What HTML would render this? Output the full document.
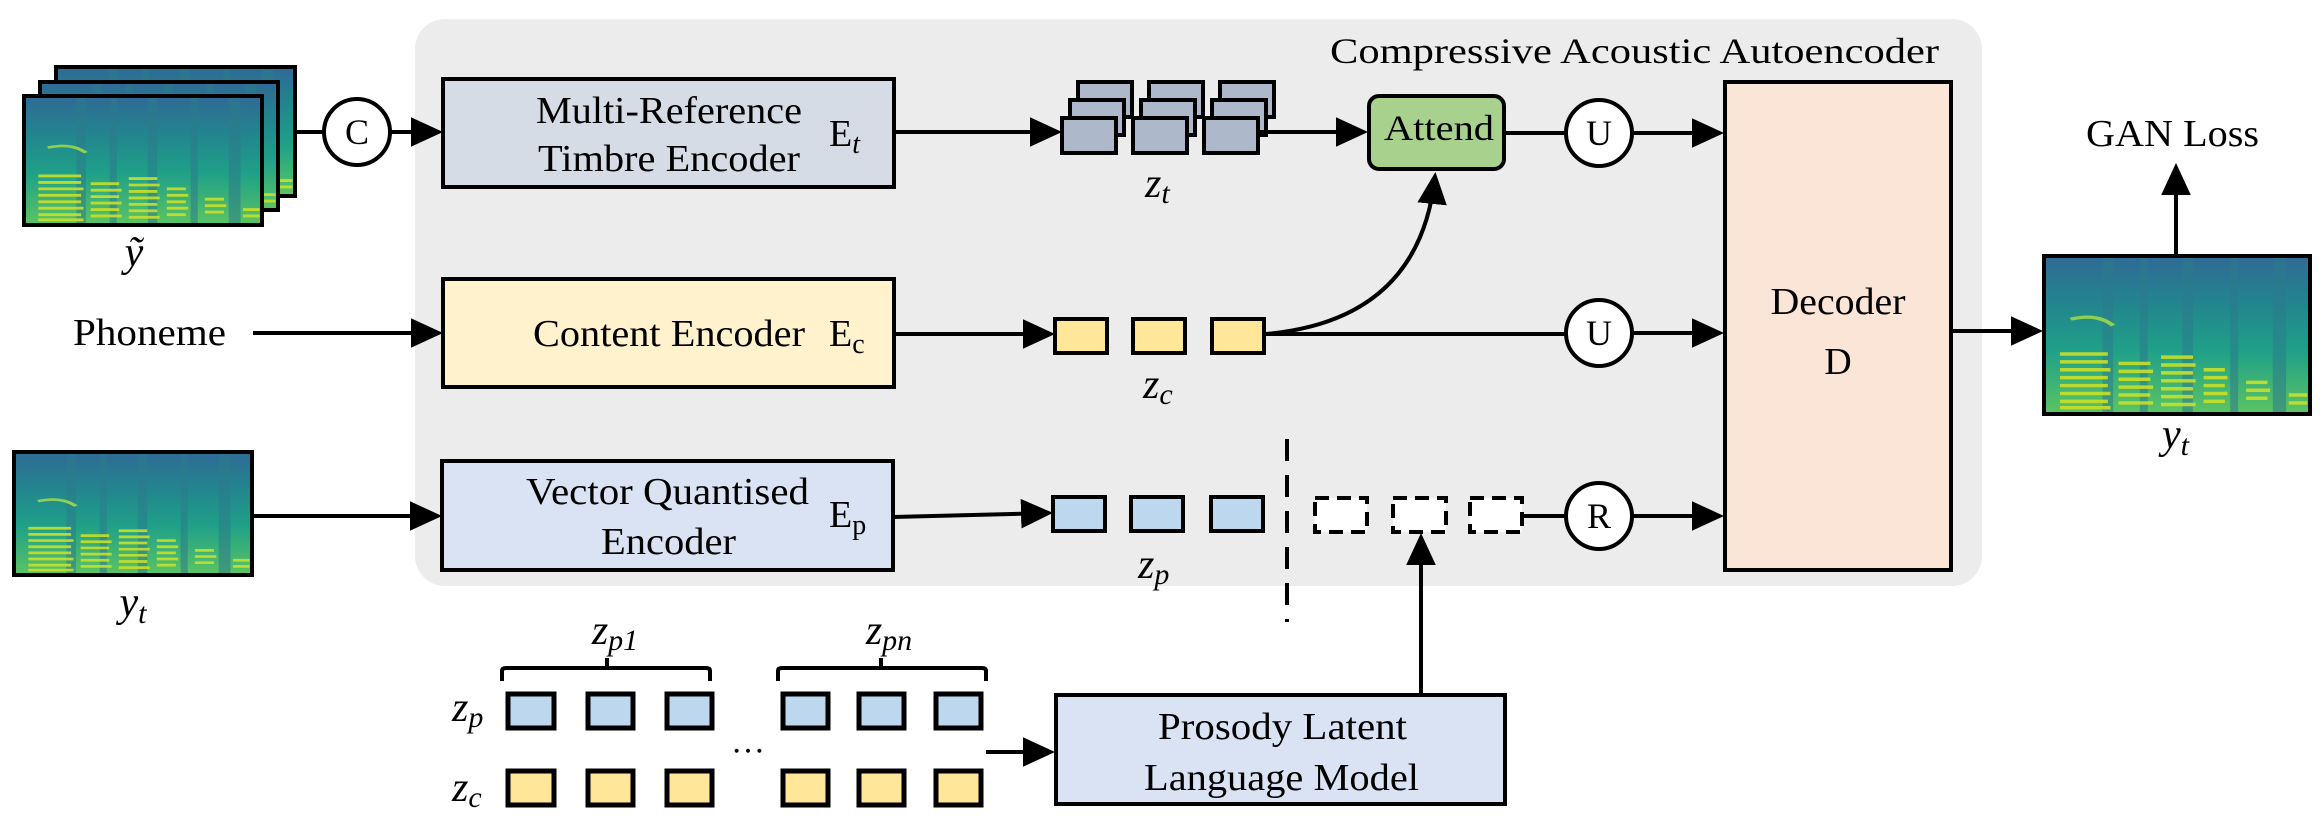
<!DOCTYPE html>
<html><head><meta charset="utf-8"><style>
html,body{margin:0;padding:0;background:#fff;}
svg{display:block;}
text{font-family:"Liberation Serif",serif;fill:#000;}
</style></head><body>
<svg width="2322" height="820" viewBox="0 0 2322 820" xmlns="http://www.w3.org/2000/svg">
<defs>
<marker id="ar" markerWidth="8" markerHeight="8" refX="7" refY="4" orient="auto" markerUnits="strokeWidth">
<path d="M0,0.3 L8,4 L0,7.7 Z" fill="#000"/></marker>
<linearGradient id="sg" x1="0" y1="0" x2="0" y2="1">
<stop offset="0" stop-color="#2f6a96"/><stop offset="0.3" stop-color="#23858e"/>
<stop offset="0.6" stop-color="#1fa088"/><stop offset="1" stop-color="#5cc463"/></linearGradient>
<symbol id="spec" viewBox="0 0 100 100" preserveAspectRatio="none">
<rect width="100" height="100" fill="url(#sg)"/>
<g fill="#2c7b8c" opacity="0.55"><rect x="22" y="0" width="4" height="100"/><rect x="36" y="0" width="3" height="100"/><rect x="52" y="0" width="4" height="100"/><rect x="70" y="0" width="3" height="100"/><rect x="86" y="0" width="5" height="100"/></g>
<g stroke="#c9e02a" stroke-width="2.2" opacity="0.9">
<path d="M6 62H24M6 67H24M6 72H25M6 77H24M6 82H24M6 87H25M6 92H24M6 96H25"/>
<path d="M28 68H40M28 73H41M28 78H40M28 83H41M28 88H40M28 93H41"/>
<path d="M44 64H56M44 69H57M44 74H56M44 79H57M44 84H56M44 89H56M44 94H57"/>
<path d="M60 72H68M60 77H69M60 82H68M60 87H69M60 92H68"/>
<path d="M76 80H84M76 85H85M76 90H84M92 88H99M92 93H99"/>
</g>
<path d="M10 40 Q20 36 26 44" stroke="#8fd14f" stroke-width="2" fill="none"/>
</symbol>
</defs>

<rect x="415" y="19" width="1567" height="567" rx="30" fill="#ececec"/>
<text x="1330" y="51" dominant-baseline="central" font-size="36" textLength="609" lengthAdjust="spacingAndGlyphs">Compressive Acoustic Autoencoder</text>

<use href="#spec" x="56" y="67" width="239" height="129"/><rect x="56" y="67" width="239" height="129" fill="none" stroke="#000" stroke-width="4"/>
<use href="#spec" x="40" y="82" width="238" height="128"/><rect x="40" y="82" width="238" height="128" fill="none" stroke="#000" stroke-width="4"/>
<use href="#spec" x="24" y="96" width="238" height="129"/><rect x="24" y="96" width="238" height="129" fill="none" stroke="#000" stroke-width="4"/>
<text x="134" y="253" text-anchor="middle" dominant-baseline="central" font-size="42" font-style="italic">ỹ</text>

<line x1="295" y1="132" x2="324" y2="132" stroke="#000" stroke-width="4"/>
<circle cx="357" cy="132" r="33" fill="#fff" stroke="#000" stroke-width="4"/>
<text x="357" y="132" text-anchor="middle" dominant-baseline="central" font-size="36">C</text>
<line x1="390" y1="132" x2="439" y2="132" stroke="#000" stroke-width="4" marker-end="url(#ar)"/>

<rect x="443" y="79" width="451" height="108" fill="#d6dce5" stroke="#000" stroke-width="4"/>
<text x="536" y="111" dominant-baseline="central" font-size="38" textLength="266" lengthAdjust="spacingAndGlyphs">Multi-Reference</text>
<text x="538" y="159" dominant-baseline="central" font-size="38" textLength="262" lengthAdjust="spacingAndGlyphs">Timbre Encoder</text>
<text x="829" y="134" dominant-baseline="central" font-size="38">E<tspan font-style="italic" font-size="28" dy="10">t</tspan></text>

<line x1="253" y1="333" x2="439" y2="333" stroke="#000" stroke-width="4" marker-end="url(#ar)"/>
<text x="73" y="333" dominant-baseline="central" font-size="38" textLength="153" lengthAdjust="spacingAndGlyphs">Phoneme</text>
<rect x="443" y="279" width="451" height="108" fill="#fff2cc" stroke="#000" stroke-width="4"/>
<text x="533" y="334" dominant-baseline="central" font-size="38" textLength="272" lengthAdjust="spacingAndGlyphs">Content Encoder</text>
<text x="829" y="334" dominant-baseline="central" font-size="38">E<tspan font-size="28" dy="10">c</tspan></text>

<use href="#spec" x="14" y="452" width="238" height="123"/><rect x="14" y="452" width="238" height="123" fill="none" stroke="#000" stroke-width="4"/>
<text x="133" y="603" text-anchor="middle" dominant-baseline="central" font-size="42" font-style="italic">y<tspan font-size="30" dy="10">t</tspan></text>
<line x1="252" y1="516" x2="438" y2="516" stroke="#000" stroke-width="4" marker-end="url(#ar)"/>
<rect x="442" y="461" width="451" height="109" fill="#dae3f3" stroke="#000" stroke-width="4"/>
<text x="526" y="492" dominant-baseline="central" font-size="38" textLength="283" lengthAdjust="spacingAndGlyphs">Vector Quantised</text>
<text x="601" y="542" dominant-baseline="central" font-size="38" textLength="135" lengthAdjust="spacingAndGlyphs">Encoder</text>
<text x="829" y="515" dominant-baseline="central" font-size="38">E<tspan font-size="28" dy="10">p</tspan></text>

<g fill="#adb9ca" stroke="#000" stroke-width="4">
<rect x="1078" y="82" width="54" height="35"/><rect x="1070" y="100" width="54" height="35"/><rect x="1062" y="118" width="54" height="35"/>
<rect x="1149" y="82" width="54" height="35"/><rect x="1141" y="100" width="54" height="35"/><rect x="1133" y="118" width="54" height="35"/>
<rect x="1220" y="82" width="54" height="35"/><rect x="1212" y="100" width="54" height="35"/><rect x="1204" y="118" width="54" height="35"/>
</g>
<line x1="894" y1="132" x2="1058" y2="132" stroke="#000" stroke-width="4" marker-end="url(#ar)"/>
<text x="1145" y="184" dominant-baseline="central" font-size="42" font-style="italic">z<tspan font-size="30" dy="9">t</tspan></text>
<line x1="1260" y1="132" x2="1364" y2="132" stroke="#000" stroke-width="4" marker-end="url(#ar)"/>

<rect x="1369" y="96" width="135" height="73" rx="10" fill="#a9d18e" stroke="#000" stroke-width="4"/>
<text x="1384" y="128" dominant-baseline="central" font-size="36" textLength="110" lengthAdjust="spacingAndGlyphs">Attend</text>
<line x1="1504" y1="133" x2="1566" y2="133" stroke="#000" stroke-width="4"/>

<g fill="#ffe699" stroke="#000" stroke-width="4">
<rect x="1055" y="319" width="52" height="34"/><rect x="1133" y="319" width="52" height="34"/><rect x="1212" y="319" width="52" height="34"/></g>
<line x1="894" y1="334" x2="1051" y2="334" stroke="#000" stroke-width="4" marker-end="url(#ar)"/>
<text x="1143" y="385" dominant-baseline="central" font-size="42" font-style="italic">z<tspan font-size="30" dy="9">c</tspan></text>
<path d="M1266 334 Q1420 320 1435 176" fill="none" stroke="#000" stroke-width="4" marker-end="url(#ar)"/>
<line x1="1266" y1="334" x2="1566" y2="334" stroke="#000" stroke-width="4"/>

<g fill="#bdd7ee" stroke="#000" stroke-width="4">
<rect x="1053" y="497" width="52" height="34"/><rect x="1131" y="497" width="52" height="34"/><rect x="1211" y="497" width="52" height="34"/></g>
<line x1="893" y1="517" x2="1049" y2="513" stroke="#000" stroke-width="4" marker-end="url(#ar)"/>
<text x="1138" y="565" dominant-baseline="central" font-size="42" font-style="italic">z<tspan font-size="30" dy="9">p</tspan></text>

<line x1="1287" y1="439" x2="1287" y2="622" stroke="#000" stroke-width="4" stroke-dasharray="22 14"/>
<g fill="#fff" stroke="#000" stroke-width="4" stroke-dasharray="14 8">
<rect x="1315" y="498" width="52" height="34"/><rect x="1393" y="498" width="53" height="34"/><rect x="1470" y="498" width="52" height="34"/></g>
<line x1="1522" y1="516" x2="1566" y2="516" stroke="#000" stroke-width="4"/>
<line x1="1421" y1="693" x2="1421" y2="537" stroke="#000" stroke-width="4" marker-end="url(#ar)"/>

<g fill="#fff" stroke="#000" stroke-width="4">
<circle cx="1599" cy="133" r="33"/><circle cx="1599" cy="333" r="33"/><circle cx="1599" cy="516" r="33"/></g>
<text x="1599" y="133" text-anchor="middle" dominant-baseline="central" font-size="36">U</text>
<text x="1599" y="333" text-anchor="middle" dominant-baseline="central" font-size="36">U</text>
<text x="1599" y="516" text-anchor="middle" dominant-baseline="central" font-size="36">R</text>
<line x1="1632" y1="133" x2="1720" y2="133" stroke="#000" stroke-width="4" marker-end="url(#ar)"/>
<line x1="1632" y1="333" x2="1720" y2="333" stroke="#000" stroke-width="4" marker-end="url(#ar)"/>
<line x1="1632" y1="516" x2="1720" y2="516" stroke="#000" stroke-width="4" marker-end="url(#ar)"/>

<rect x="1725" y="82" width="226" height="488" fill="#fbe5d6" stroke="#000" stroke-width="4"/>
<text x="1838" y="302" text-anchor="middle" dominant-baseline="central" font-size="38" textLength="135" lengthAdjust="spacingAndGlyphs">Decoder</text>
<text x="1838" y="362" text-anchor="middle" dominant-baseline="central" font-size="38">D</text>
<line x1="1951" y1="331" x2="2039" y2="331" stroke="#000" stroke-width="4" marker-end="url(#ar)"/>

<use href="#spec" x="2044" y="256" width="266" height="158"/><rect x="2044" y="256" width="266" height="158" fill="none" stroke="#000" stroke-width="4"/>
<text x="2162" y="435" dominant-baseline="central" font-size="42" font-style="italic">y<tspan font-size="30" dy="10">t</tspan></text>
<line x1="2176" y1="254" x2="2176" y2="167" stroke="#000" stroke-width="4" marker-end="url(#ar)"/>
<text x="2086" y="134" dominant-baseline="central" font-size="38" textLength="173" lengthAdjust="spacingAndGlyphs">GAN Loss</text>

<text x="615" y="631" text-anchor="middle" dominant-baseline="central" font-size="42" font-style="italic">z<tspan font-size="30" dy="9">p1</tspan></text>
<text x="889" y="631" text-anchor="middle" dominant-baseline="central" font-size="42" font-style="italic">z<tspan font-size="30" dy="9">pn</tspan></text>
<path d="M502 681 V671 Q502 668 506 668 H706 Q710 668 710 671 V681 M607 668 V658" fill="none" stroke="#000" stroke-width="4"/>
<path d="M778 681 V671 Q778 668 782 668 H982 Q986 668 986 671 V681 M881 668 V658" fill="none" stroke="#000" stroke-width="4"/>
<text x="452" y="708" dominant-baseline="central" font-size="42" font-style="italic">z<tspan font-size="30" dy="9">p</tspan></text>
<text x="452" y="788" dominant-baseline="central" font-size="42" font-style="italic">z<tspan font-size="30" dy="9">c</tspan></text>
<g fill="#bdd7ee" stroke="#000" stroke-width="5">
<rect x="508" y="694" width="46" height="34"/><rect x="588" y="694" width="45" height="34"/><rect x="667" y="694" width="45" height="34"/>
<rect x="783" y="694" width="45" height="34"/><rect x="859" y="694" width="45" height="34"/><rect x="936" y="694" width="45" height="34"/></g>
<g fill="#ffe699" stroke="#000" stroke-width="5">
<rect x="508" y="771" width="46" height="34"/><rect x="588" y="771" width="45" height="34"/><rect x="667" y="771" width="45" height="34"/>
<rect x="783" y="771" width="45" height="34"/><rect x="859" y="771" width="45" height="34"/><rect x="936" y="771" width="45" height="34"/></g>
<text x="748" y="742" text-anchor="middle" dominant-baseline="central" font-size="34">…</text>
<line x1="986" y1="752" x2="1051" y2="752" stroke="#000" stroke-width="4" marker-end="url(#ar)"/>
<rect x="1056" y="695" width="449" height="109" fill="#dae3f3" stroke="#000" stroke-width="4"/>
<text x="1158" y="727" dominant-baseline="central" font-size="38" textLength="249" lengthAdjust="spacingAndGlyphs">Prosody Latent</text>
<text x="1144" y="778" dominant-baseline="central" font-size="38" textLength="275" lengthAdjust="spacingAndGlyphs">Language Model</text>
</svg>
</body></html>
